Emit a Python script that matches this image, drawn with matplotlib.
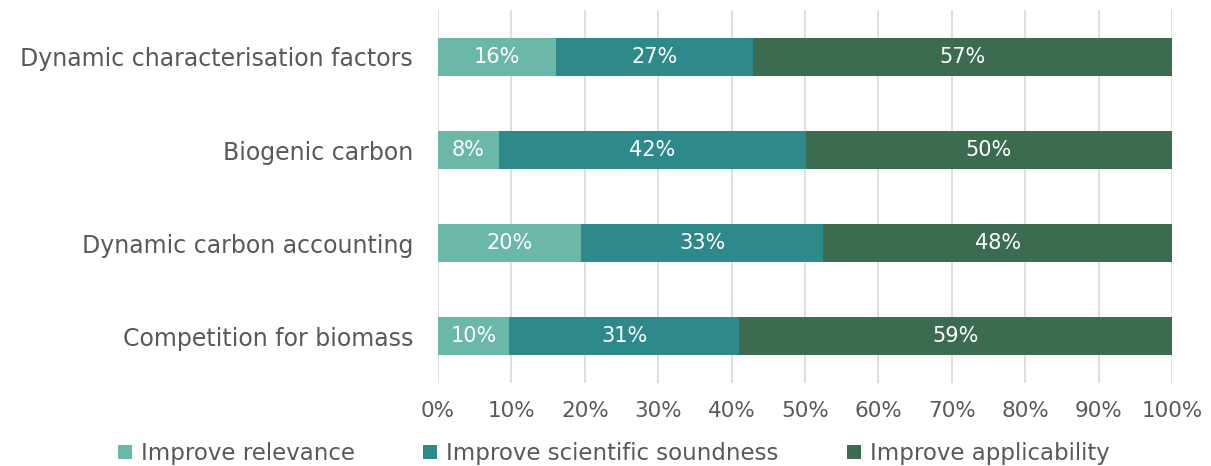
import matplotlib.pyplot as plt
from matplotlib.ticker import MultipleLocator, PercentFormatter

# survey topics, top to bottom as drawn
topics = ["Dynamic characterisation factors", "Biogenic carbon",
          "Dynamic carbon accounting", "Competition for biomass"]
relevance = [16.1, 8.3, 19.5, 9.7]
soundness = [26.8, 41.8, 33.0, 31.3]
applicability = [57.1, 49.9, 47.5, 59.0]

series = [("Improve relevance", relevance, "#6cb8a8"),
          ("Improve scientific soundness", soundness, "#2e8a8a"),
          ("Improve applicability", applicability, "#3c6c50")]

txt = "#595959"
plt.rcParams['font.family'] = ['DejaVu Sans']

fig = plt.figure(figsize=(12.11, 4.66), dpi=100)
ax = fig.add_axes([0.3617, 0.179, 0.6061, 0.7985])

ypos = list(range(len(topics)))
left = [0.0] * len(topics)
for name, vals, col in series:
    bars = ax.barh(ypos, vals, left=left, height=0.4, color=col, label=name, zorder=3)
    for b, v in zip(bars, vals):
        ax.text(b.get_x() + b.get_width() / 2, b.get_y() + b.get_height() / 2,
                "%.0f%%" % v, ha="center", va="center", color="white", fontsize=15, zorder=4)
    left = [l + v for l, v in zip(left, vals)]

ax.set_xlim(0, 100)
ax.set_ylim(len(topics) - 0.5, -0.5)
ax.set_yticks(ypos)
ax.set_yticklabels(topics, fontsize=17, color=txt)
ax.xaxis.set_major_locator(MultipleLocator(10))
ax.xaxis.set_major_formatter(PercentFormatter(decimals=0))
ax.tick_params(axis="x", labelsize=15.5, colors=txt, length=0, pad=13)
ax.tick_params(axis="y", length=0, pad=18)
ax.grid(axis="x", color="#d9d9d9", linewidth=1.2, zorder=0)
for s in ax.spines.values():
    s.set_visible(False)

fig.legend(loc="center", bbox_to_anchor=(0.507, 0.027), ncol=3, frameon=False,
           fontsize=16.5, labelcolor=txt, handlelength=0.6, handleheight=0.6,
           handletextpad=0.4, columnspacing=3.0, borderaxespad=0)

fig.savefig("out.png", dpi=100)
